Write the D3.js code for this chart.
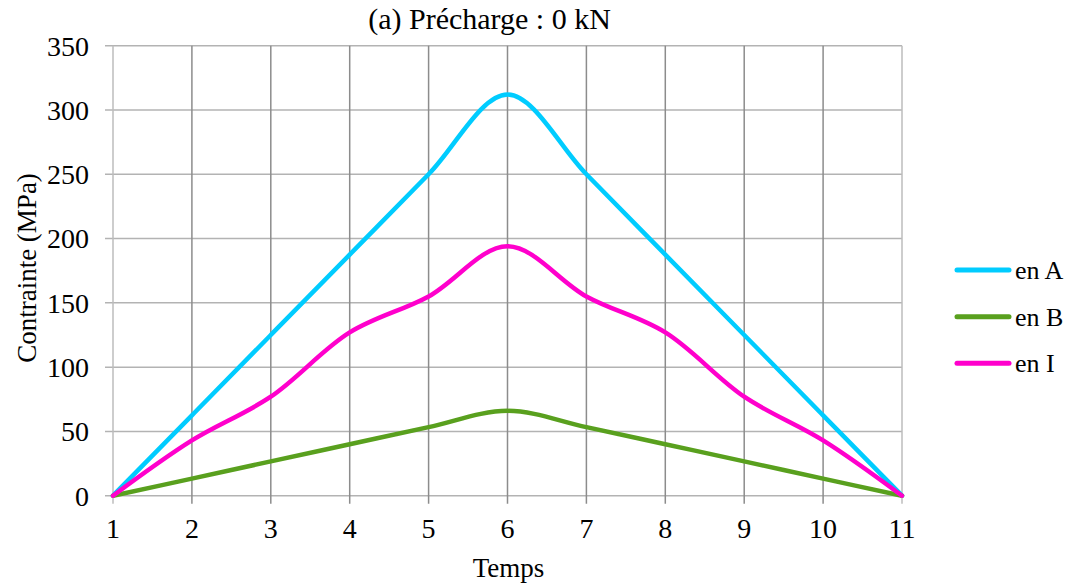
<!DOCTYPE html>
<html><head><meta charset="utf-8">
<script src="https://cdn.jsdelivr.net/npm/d3@7"></script>
<style>body{margin:0;background:#fff}svg{display:block}text{font-family:"Times New Roman","Liberation Serif",serif;fill:#000}</style>
</head><body><svg id="c" width="1077" height="585"></svg>
<script>
const temps = [1,2,3,4,5,6,7,8,9,10,11];
const enA = [0,62.5,125,187.5,250,312,250,187.5,125,62.5,0];
const enB = [0,13.3,26.7,40,53.3,66,53.3,40,26.7,13.3,0];
const enI = [0,43,77,127,155,194,155,127,77,43,0];
const seriesNames = ["en A","en B","en I"];
const seriesColors = ["#00CCFF","#59A01E","#FF00CC"];
const yTicks = [0,50,100,150,200,250,300,350];
const title = "(a) Précharge : 0 kN";
const xTitle = "Temps";
const yTitle = "Contrainte (MPa)";

const svg = d3.select("#c");
const L=113, R=902, T=45.7, B=495.7;
const x = d3.scaleLinear().domain([1,11]).range([L,R]);
const y = d3.scaleLinear().domain([0,350]).range([B,T]);
const fs = 28;

svg.append("g").selectAll("line").data(yTicks).join("line")
  .attr("x1",L-8).attr("x2",R).attr("y1",d=>y(d)).attr("y2",d=>y(d))
  .attr("stroke","#b3b3b3").attr("stroke-width",1.5);
svg.append("g").selectAll("line").data(temps).join("line")
  .attr("x1",d=>x(d)).attr("x2",d=>x(d)).attr("y1",T).attr("y2",B+8)
  .attr("stroke",(d,i)=> (i===0||i===temps.length-1)?"#bdbdbd":"#8c8c8c").attr("stroke-width",1.5);

svg.append("g").selectAll("text").data(yTicks).join("text")
  .attr("x",L-24).attr("y",d=>y(d)).attr("dy","0.35em").attr("text-anchor","end")
  .attr("font-size",fs).text(d=>d);
svg.append("g").selectAll("text").data(temps).join("text")
  .attr("x",d=>x(d)).attr("y",B+42).attr("text-anchor","middle")
  .attr("font-size",fs).text(d=>d);

svg.append("text").attr("x",489.5).attr("y",29).attr("text-anchor","middle").attr("font-size",30).text(title);
svg.append("text").attr("x",508.5).attr("y",577).attr("text-anchor","middle").attr("font-size",fs-1).text(xTitle);
svg.append("text").attr("transform",`translate(36,268) rotate(-90)`).attr("text-anchor","middle").attr("font-size",fs-1).text(yTitle);

const data = [enA,enB,enI];
const line = d3.line().x((d,i)=>x(temps[i])).y(d=>y(d)).curve(d3.curveCatmullRom.alpha(0.5));
data.forEach((s,k)=>{
  svg.append("path").attr("d",line(s)).attr("fill","none")
    .attr("stroke",seriesColors[k]).attr("stroke-width",4.5).attr("stroke-linejoin","round").attr("stroke-linecap","round");
});

const ly = [270,316.7,363.3];
seriesNames.forEach((n,k)=>{
  svg.append("line").attr("x1",957).attr("x2",1009).attr("y1",ly[k]).attr("y2",ly[k])
    .attr("stroke",seriesColors[k]).attr("stroke-width",5).attr("stroke-linecap","round");
  svg.append("text").attr("x",1015).attr("y",ly[k]).attr("dy","0.35em").attr("font-size",fs-2).text(n);
});
</script></body></html>
